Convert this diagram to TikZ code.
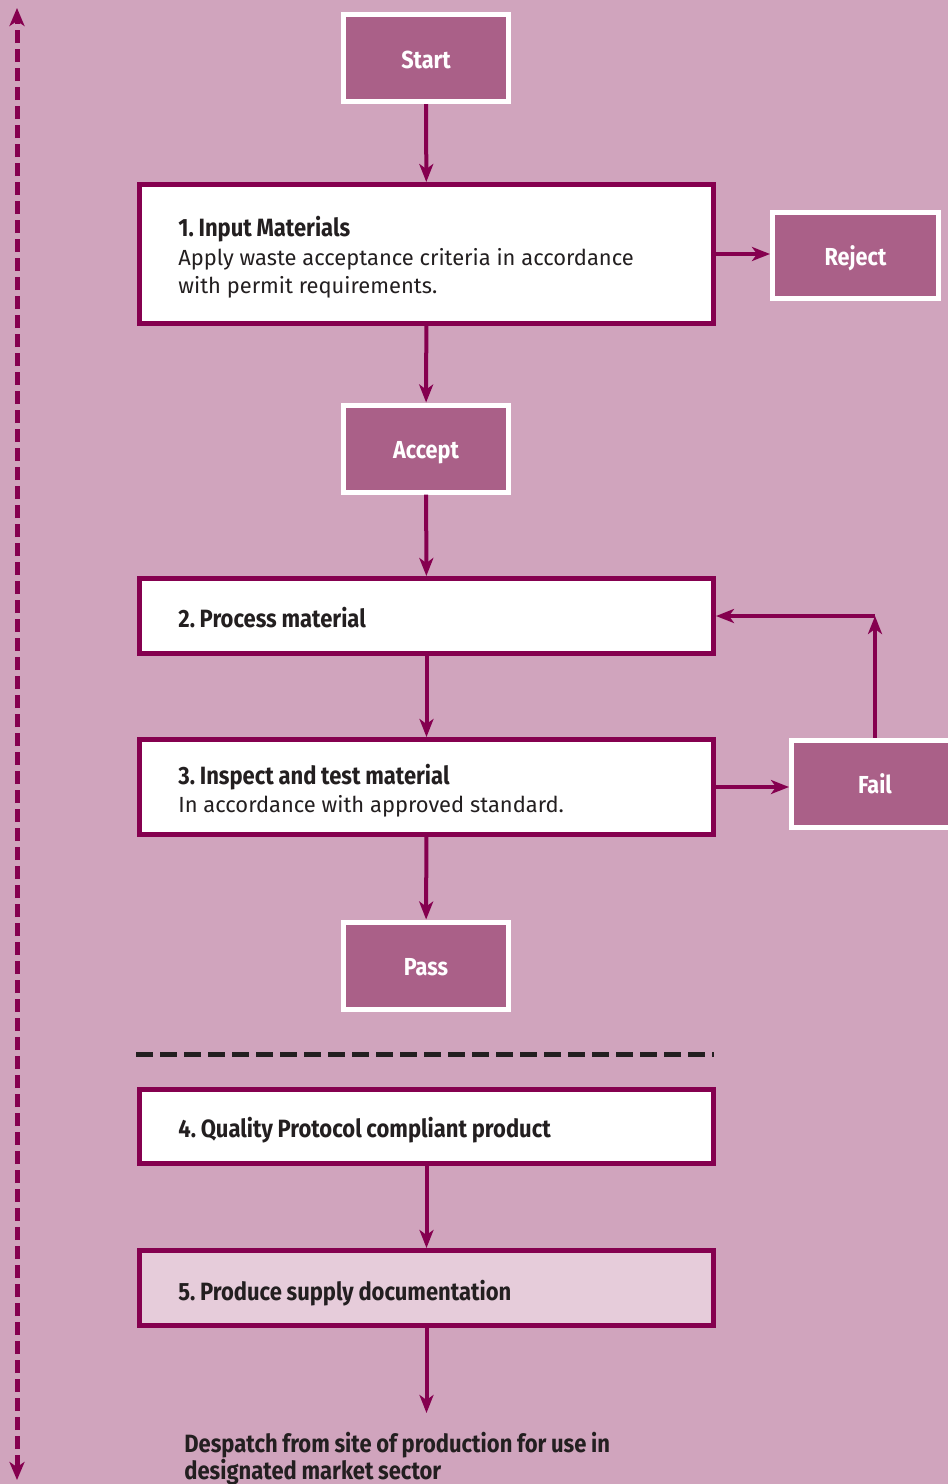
\documentclass[tikz,border=0pt]{standalone}
\usepackage{fontspec}
\setmainfont{Fira Sans}
\newfontfamily\headfont{Fira Sans}[FakeStretch=0.88,WordSpace=0.9]
\usetikzlibrary{arrows.meta}
\definecolor{bgc}{HTML}{D0A4BD}
\definecolor{dm}{HTML}{85004F}
\definecolor{mauve}{HTML}{AA6088}
\definecolor{lightp}{HTML}{E6CCDA}
\definecolor{txt}{HTML}{231F20}
\frenchspacing
\tikzset{
  mbox/.style={fill=mauve, draw=white, line width=2.5pt, minimum width=82.5pt, minimum height=43.5pt, text=white, font=\headfont\bfseries\fontsize{12.3pt}{14pt}\selectfont, inner sep=0pt, text height=10.2pt, text depth=0pt},
  stepbox/.style={fill=white, draw=dm, line width=2.5pt, minimum width=287pt, inner sep=0pt},
  steptext/.style={anchor=base west, inner sep=0pt, align=left, text=txt, font=\fontsize{10.95pt}{14.2pt}\selectfont},
  arr/.style={draw=dm, line width=2pt, -{Stealth[length=9pt,width=7pt,inset=2.5pt]}}
}
\newcommand{\hdtxt}[1]{{\headfont\bfseries\fontsize{12.5pt}{14.2pt}\selectfont #1}}
\begin{document}
\begin{tikzpicture}[x=0.5pt,y=-0.5pt]
\fill[bgc] (0,0) rectangle (948,1484);
\useasboundingbox (0,0) rectangle (948,1484);
\clip (0,0) rectangle (948,1484);
% left dashed double arrow
\coordinate (lt) at (17,8);
\coordinate (lb) at (17,1480);
\draw[dm, line width=2.5pt, dash pattern=on 6.5pt off 3pt, {Stealth[length=9pt,width=7.5pt,inset=2.5pt]}-{Stealth[length=9pt,width=7.5pt,inset=2.5pt]}] (lb) -- (lt);
% boxes
\node[mbox] (start) at (426,58) {Start};
\node[stepbox, minimum height=69.5pt] (s1) at (426.5,254) {};
\node[steptext] (s1a) at (178,236) {\hdtxt{1. Input Materials}};
\node[steptext] (s1b) at (178,265) {Apply waste acceptance criteria in accordance};
\node[steptext] (s1c) at (178,293) {with permit requirements.};
\node[mbox, minimum width=83pt, minimum height=43pt] (reject) at (855.5,255.5) {Reject};
\node[mbox] (accept) at (426,448.5) {Accept};
\node[stepbox, minimum height=37.5pt] (s2) at (426.5,616) {};
\node[steptext] (s2a) at (178,627) {\hdtxt{2. Process material}};
\node[stepbox, minimum height=47.5pt] (s3) at (426.5,787) {};
\node[steptext] (s3a) at (178,784) {\hdtxt{3. Inspect and test material}};
\node[steptext] (s3b) at (178,812) {In accordance with approved standard.};
\node[mbox, minimum width=83.5pt] (fail) at (875,783.5) {Fail};
\node[mbox] (pass) at (426,965.5) {Pass};
\coordinate (dl) at (136,1054);
\coordinate (dr) at (714,1054);
\draw[txt, line width=2.5pt, dash pattern=on 8.5pt off 3.5pt] (dl) -- (dr);
\node[stepbox, minimum height=37pt] (s4) at (426.5,1126.5) {};
\node[steptext] (s4a) at (178,1137) {\hdtxt{4. Quality Protocol compliant product}};
\node[stepbox, minimum height=37.5pt, fill=lightp] (s5) at (426.5,1288) {};
\node[steptext] (s5a) at (178,1300) {\hdtxt{5. Produce supply documentation}};
\coordinate (end) at (426.5,1413);
\node[steptext] (despa) at (184,1452) {\hdtxt{Despatch from site of production for use in}};
\node[steptext] (despb) at (184,1479) {\hdtxt{designated market sector}};
% connectors
\draw[arr] (start) -- (s1);
\draw[arr] (s1.east) -- (reject.west |- s1.east);
\draw[arr] (s1) -- (accept);
\draw[arr] (accept) -- (s2);
\draw[arr] (s2) -- (s3);
\draw[arr] (s3.east) -- (fail.west |- s3.east);
\coordinate (corner) at (fail.north |- s2.east);
\draw[arr] (fail.north) -- (corner);
\draw[arr] (corner) -- (s2.east);
\draw[arr] (s3) -- (pass);
\draw[arr] (s4) -- (s5);
\draw[arr] (s5) -- (end);
\end{tikzpicture}
\end{document}
